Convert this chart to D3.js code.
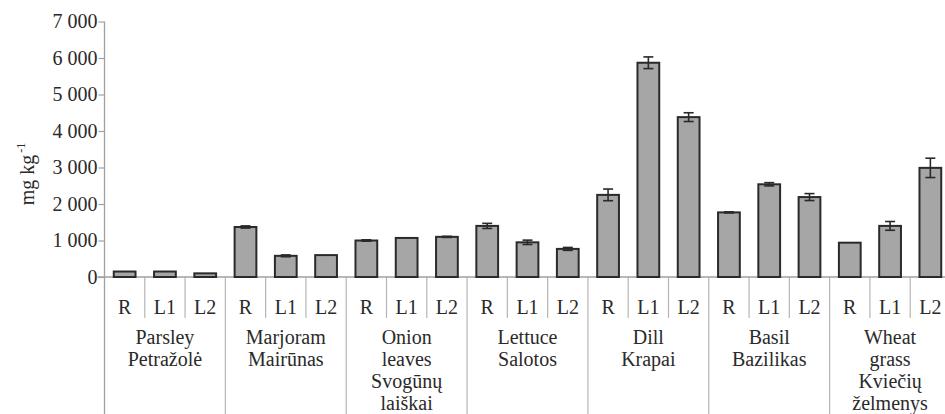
<!DOCTYPE html>
<html>
<head>
<meta charset="utf-8">
<script src="https://cdn.jsdelivr.net/npm/d3@7"></script>
<style>
  html, body { margin: 0; padding: 0; background: #fff; }
  svg { display: block; }
</style>
</head>
<body>
<div id="chart"></div>
<script>
const groups = ["Parsley", "Marjoram", "Onion leaves", "Lettuce", "Dill", "Basil", "Wheat grass"];
const groupLines = [
  ["Parsley", "Petražolė"],
  ["Marjoram", "Mairūnas"],
  ["Onion", "leaves", "Svogūnų", "laiškai"],
  ["Lettuce", "Salotos"],
  ["Dill", "Krapai"],
  ["Basil", "Bazilikas"],
  ["Wheat", "grass", "Kviečių", "želmenys"],
];
const treatments = ["R", "L1", "L2"];
const values = [
  150, 150, 100,
  1370, 580, 600,
  1000, 1070, 1100,
  1400, 950, 770,
  2250, 5870, 4380,
  1770, 2540, 2190,
  940, 1400, 2990,
];
const errors = [
  0, 0, 0,
  30, 25, 0,
  20, 0, 15,
  70, 60, 40,
  160, 160, 120,
  15, 45, 95,
  0, 120, 265,
];
const yTicks = [0, 1000, 2000, 3000, 4000, 5000, 6000, 7000];
const yTickLabels = ["0", "1 000", "2 000", "3 000", "4 000", "5 000", "6 000", "7 000"];

const FONT = "'Liberation Serif', 'Times New Roman', 'DejaVu Serif', serif";
const INK = "#2a2a2a";

const width = 945;
const height = 414;
const plotLeft = 104.5;
const plotRight = 950.5;
const plotTop = 21.5;
const zeroY = 277;

const bars = groups.flatMap((g, gi) =>
  treatments.map((t, ti) => {
    const i = gi * treatments.length + ti;
    return { id: i, group: gi, treatment: t, value: values[i], error: errors[i] };
  }),
);

const x = d3.scaleBand().domain(bars.map((d) => d.id)).range([plotLeft, plotRight]).paddingInner(0.46).paddingOuter(0.23);
const y = d3.scaleLinear().domain([0, 7000]).range([zeroY, plotTop]);
const step = x.step();
const edge = (i) => plotLeft + i * step;

const svg = d3.select("#chart").append("svg")
  .attr("width", width)
  .attr("height", height)
  .attr("viewBox", [0, 0, width, height])
  .attr("font-family", FONT);

// category dividers below the axis
svg.append("g")
  .selectAll("line")
  .data(bars.slice(1))
  .join("line")
  .attr("x1", (d) => edge(d.id))
  .attr("x2", (d) => edge(d.id))
  .attr("y1", zeroY)
  .attr("y2", (d) => (d.id % 3 === 0 ? height : 318))
  .attr("stroke", "#b5b5b5")
  .attr("stroke-width", 1.2);

// x baseline
svg.append("line")
  .attr("x1", plotLeft - 7).attr("x2", width)
  .attr("y1", zeroY).attr("y2", zeroY)
  .attr("stroke", "#a0a0a0").attr("stroke-width", 1.3);

// y axis
const yAxis = svg.append("g")
  .attr("transform", `translate(${plotLeft},0)`)
  .call(d3.axisLeft(y).tickValues(yTicks).tickSize(6).tickFormat((d, i) => yTickLabels[i]))
  .call((g) => g.select(".domain").remove())
  .attr("font-family", FONT)
  .attr("font-size", 20);
yAxis.selectAll(".tick line").attr("stroke", "#a0a0a0").attr("stroke-width", 1.2);
yAxis.selectAll(".tick text")
  .attr("fill", INK)
  .attr("x", -7);
svg.append("line")
  .attr("x1", plotLeft).attr("x2", plotLeft)
  .attr("y1", plotTop).attr("y2", height)
  .attr("stroke", "#a0a0a0").attr("stroke-width", 1.3);

// y label
const yLabel = svg.append("text")
  .attr("transform", "translate(34,174) rotate(-90)")
  .attr("text-anchor", "middle")
  .attr("fill", INK)
  .attr("font-size", 20);
yLabel.append("tspan").text("mg kg");
yLabel.append("tspan").attr("dy", -9).attr("dx", 2).attr("font-size", 12).text("-1");

// bars
svg.append("g")
  .selectAll("rect")
  .data(bars)
  .join("rect")
  .attr("x", (d) => x(d.id))
  .attr("width", x.bandwidth())
  .attr("y", (d) => y(d.value))
  .attr("height", (d) => y(0) - y(d.value))
  .attr("fill", "#a6a6a6")
  .attr("stroke", INK)
  .attr("stroke-width", 2);

// error bars
const eb = svg.append("g")
  .attr("stroke", INK)
  .attr("stroke-width", 1.6)
  .selectAll("g")
  .data(bars.filter((d) => d.error > 0))
  .join("g")
  .attr("transform", (d) => `translate(${x(d.id) + x.bandwidth() / 2},0)`);
eb.append("line")
  .attr("y1", (d) => y(d.value + d.error))
  .attr("y2", (d) => y(d.value - d.error));
eb.append("line")
  .attr("x1", -5).attr("x2", 5)
  .attr("y1", (d) => y(d.value + d.error))
  .attr("y2", (d) => y(d.value + d.error));
eb.append("line")
  .attr("x1", -5).attr("x2", 5)
  .attr("y1", (d) => y(d.value - d.error))
  .attr("y2", (d) => y(d.value - d.error));

// treatment labels
svg.append("g")
  .selectAll("text")
  .data(bars)
  .join("text")
  .attr("x", (d) => edge(d.id + 0.5))
  .attr("y", 314)
  .attr("text-anchor", "middle")
  .attr("fill", INK)
  .attr("font-size", 20)
  .text((d) => d.treatment);

// group labels
const gl = svg.append("g")
  .selectAll("text")
  .data(groupLines)
  .join("text")
  .attr("text-anchor", "middle")
  .attr("fill", INK)
  .attr("font-size", 20);
gl.selectAll("tspan")
  .data((d, i) => d.map((line) => ({ line, i })))
  .join("tspan")
  .attr("x", (d) => edge(d.i * 3 + 1.5))
  .attr("y", (d, j) => 344 + j * 22)
  .text((d) => d.line);
</script>
</body>
</html>
